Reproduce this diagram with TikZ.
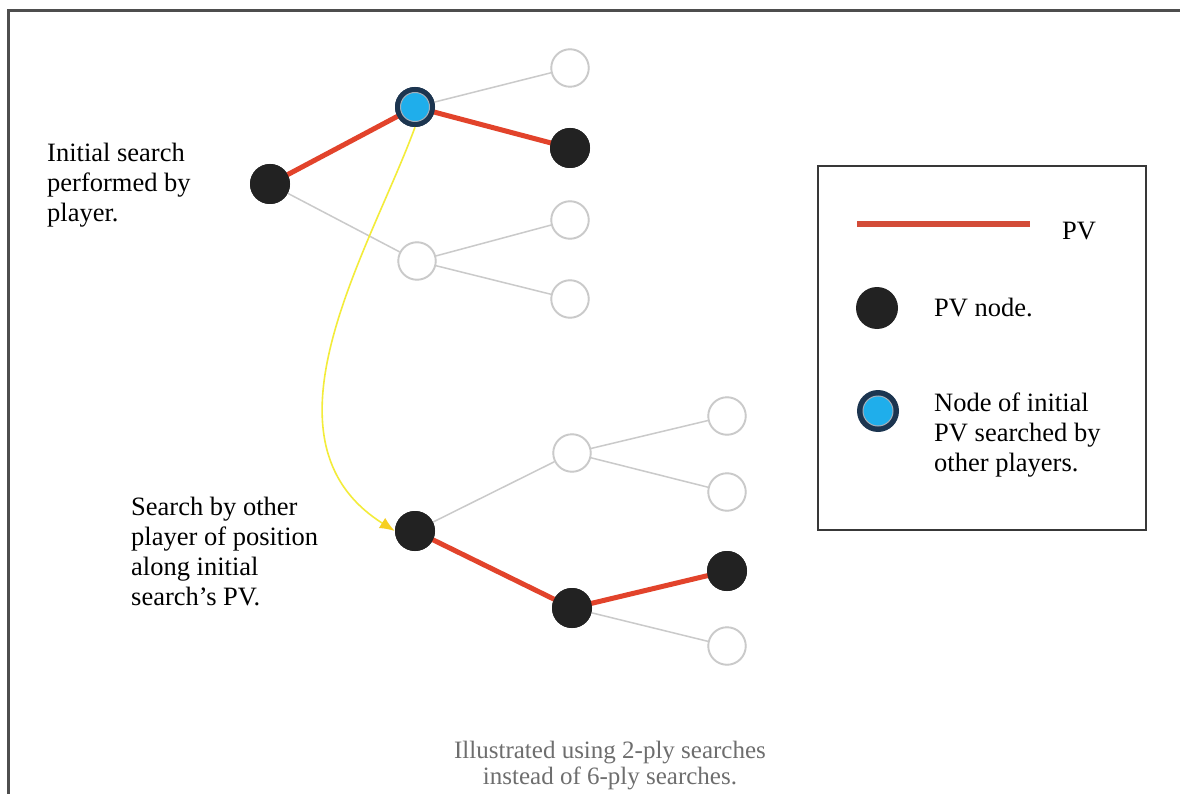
\documentclass[tikz,border=0pt]{standalone}
\usepackage{fontspec}
\setmainfont{Liberation Serif}
\usetikzlibrary{arrows.meta}
\definecolor{pvred}{HTML}{E2432B}
\definecolor{pvdark}{HTML}{222222}
\definecolor{edgegray}{HTML}{CACACA}
\definecolor{ringblue}{HTML}{1C3550}
\definecolor{fillblue}{HTML}{1FAEEB}
\definecolor{arrowyellow}{HTML}{F3EC3A}
\definecolor{tipyellow}{HTML}{F6CF22}
\definecolor{captiongray}{HTML}{6E6E6E}
\tikzset{
  pvnode/.style={circle, fill=pvdark, minimum size=40pt, inner sep=0pt},
  opennode/.style={circle, draw=edgegray, line width=1.4pt, fill=white, minimum size=38pt, inner sep=0pt},
  bluenode/.style={circle, fill=ringblue, minimum size=40pt, inner sep=0pt},
  pvedge/.style={pvred, line width=5pt},
  treeedge/.style={edgegray, line width=1.5pt},
  lbl/.style={align=left, anchor=west, font=\fontsize{26.5}{30}\selectfont, inner sep=0pt},
}
\begin{document}
\begin{tikzpicture}[x=1pt, y=-1pt]
\useasboundingbox (0,0) rectangle (1180,794);
\fill[white] (0,0) rectangle (1180,794);
% outer frame (left and top edges)
\draw[pvdark!80, line width=3pt] (8,794) -- (8,11) -- (1180,11);

% upper tree: initial search
\node[pvnode] (r1) at (270,184) {};
\node[bluenode] (b1) at (415,107) {};
\node[opennode] (w1) at (417,261) {};
\node[opennode] (l1) at (570,68) {};
\node[pvnode] (l2) at (570,148) {};
\node[opennode] (l3) at (570,220) {};
\node[opennode] (l4) at (570,299) {};

% lower tree: search by other player
\node[pvnode] (r2) at (415,531) {};
\node[opennode] (w2) at (572,453) {};
\node[pvnode] (m2) at (572,608) {};
\node[opennode] (k1) at (727,416) {};
\node[opennode] (k2) at (727,492) {};
\node[pvnode] (k3) at (727,571) {};
\node[opennode] (k4) at (727,646) {};

% tree edges
\draw[treeedge] (r1.center) -- (w1);
\draw[treeedge] (b1.center) -- (l1);
\draw[treeedge] (w1.center) -- (l3);
\draw[treeedge] (w1.center) -- (l4);
\draw[treeedge] (r2.center) -- (w2);
\draw[treeedge] (w2.center) -- (k1);
\draw[treeedge] (w2.center) -- (k2);
\draw[treeedge] (m2.center) -- (k4);
\draw[pvedge] (r1.center) -- (b1.center) -- (l2.center);
\draw[pvedge] (r2.center) -- (m2.center) -- (k3.center);

% node discs on top of the edge ends
\foreach \n in {r1,l2,r2,m2,k3}{\fill[pvdark] (\n) circle (20pt);}
\foreach \n in {w1,l1,l3,l4,w2,k1,k2,k4}{\draw[edgegray, line width=1.4pt, fill=white] (\n) circle (18.5pt);}
\fill[ringblue] (b1) circle (20pt);
\draw[fill=fillblue, draw=ringblue!40, line width=1pt] (b1) circle (14.5pt);

% yellow connector from the PV node to the second search
\draw[arrowyellow, line width=1.6pt, -{Latex[length=15pt, width=12pt, color=tipyellow]}]
  (b1.south) .. controls (370,250) and (250,440) .. (r2.west);

% labels
\node[lbl] (t1) at (47,185) {Initial search\\performed by\\player.};
\node[lbl] (t2) at (131,552) {Search by other\\player of position\\along initial\\search’s PV.};

% legend
\draw[pvdark!90, line width=2pt] (818,166) rectangle (1146,530);
\coordinate (la) at (857,224);
\coordinate (lb) at (1030,224);
\draw[pvred!85!gray, line width=6pt] (la) -- (lb);
\node[lbl] (lpv) at (1062,231) {PV};
\fill[pvdark] (877,308) coordinate (ld) circle (21pt);
\node[lbl] (lpn) at (934,308) {PV node.};
\fill[ringblue] (878,411) coordinate (lbn) circle (21pt);
\draw[fill=fillblue, draw=ringblue!40, line width=1pt] (lbn) circle (15pt);
\node[lbl] (lnt) at (934,435) {Node of initial\\PV searched by\\other players.};

% caption
\node[align=center, text=captiongray, font=\fontsize{25}{26}\selectfont, inner sep=0pt] (cap) at (610,766)
  {Illustrated using 2-ply searches\\instead of 6-ply searches.};
\end{tikzpicture}
\end{document}
